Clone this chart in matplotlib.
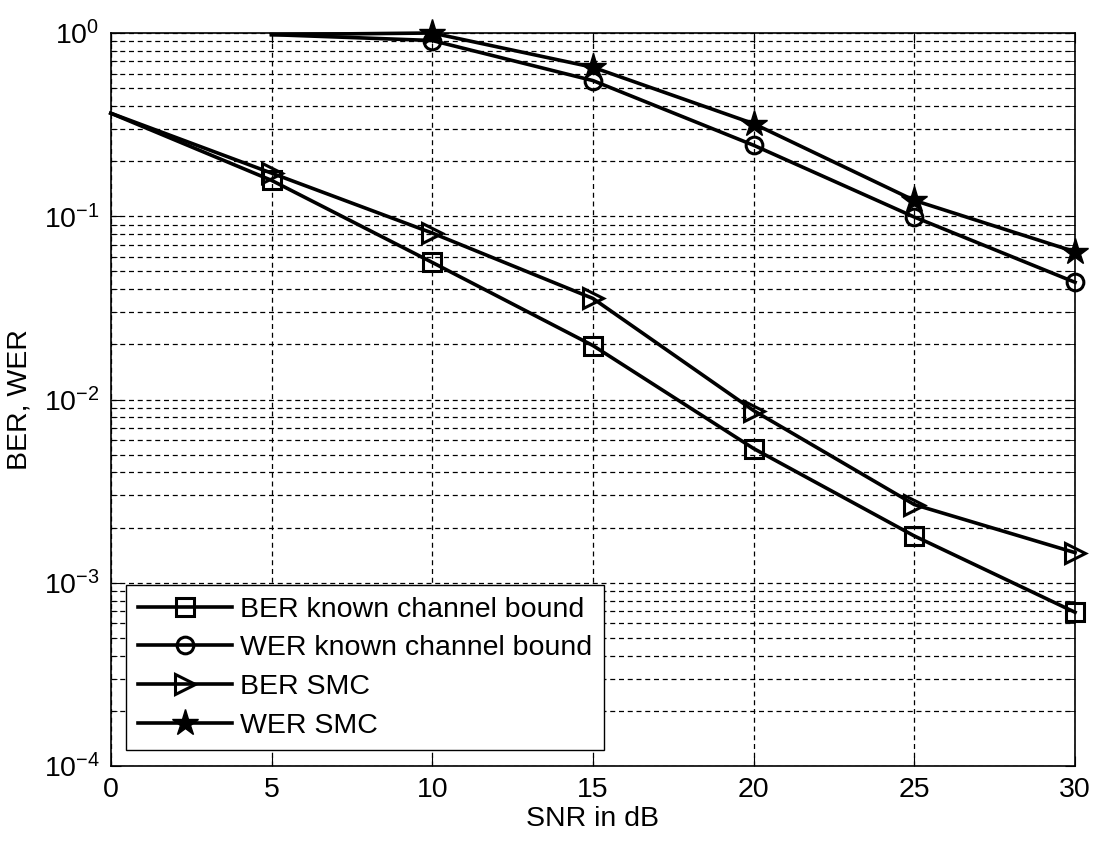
import numpy as np
import matplotlib
matplotlib.use("Agg")
import matplotlib.pyplot as plt
from matplotlib.ticker import LogLocator, NullFormatter

plt.rcParams['font.family'] = ['Liberation Sans', 'DejaVu Sans']
plt.rcParams['mathtext.fontset'] = 'custom'
plt.rcParams['mathtext.rm'] = 'Liberation Sans'
plt.rcParams['mathtext.it'] = 'Liberation Sans'
plt.rcParams['mathtext.bf'] = 'Liberation Sans:bold'

# data
snr = [0, 5, 10, 15, 20, 25, 30]
ber_known = [0.365, 0.157, 0.056, 0.0197, 0.0054, 0.0018, 0.00069]
ber_smc = [0.365, 0.172, 0.081, 0.0356, 0.0087, 0.00267, 0.00146]

snr_wer = [5, 10, 15, 20, 25, 30]
wer_known = [0.98, 0.91, 0.55, 0.244, 0.099, 0.0436]
wer_smc = [0.98, 1.0, 0.65, 0.32, 0.122, 0.064]

labels = ['BER known channel bound', 'WER known channel bound', 'BER SMC', 'WER SMC']

fs = 20.5

fig = plt.figure(figsize=(10.97, 8.44), dpi=100)
ax = fig.add_axes([0.101, 0.0924, 0.879, 0.8685])

lw = 2.6
ax.plot(snr, ber_known, color='k', lw=lw, marker='s', ms=13, mfc='none', mew=2.2,
        markevery=list(range(1, len(snr))), clip_on=False, label=labels[0])
ax.plot(snr_wer, wer_known, color='k', lw=lw, marker='o', ms=12, mfc='none', mew=2.2,
        markevery=list(range(1, len(snr_wer))), clip_on=False, label=labels[1])
ax.plot(snr, ber_smc, color='k', lw=lw, marker='>', ms=14, mfc='none', mew=2.2,
        markevery=list(range(1, len(snr))), clip_on=False, label=labels[2])
ax.plot(snr_wer, wer_smc, color='k', lw=lw, marker='*', ms=20, mfc='k', mew=1,
        markevery=list(range(1, len(snr_wer))), clip_on=False, label=labels[3])

ax.set_yscale('log')
ax.set_xlim(0, 30)
ax.set_ylim(1e-4, 1e0)
ax.set_xticks([0, 5, 10, 15, 20, 25, 30])
ax.yaxis.set_major_locator(LogLocator(base=10, numticks=10))
ax.yaxis.set_minor_locator(LogLocator(base=10, subs=np.arange(2, 10), numticks=20))
ax.yaxis.set_minor_formatter(NullFormatter())

ax.grid(True, which='major', axis='both', color='k', linestyle=(0, (4, 3)), lw=0.9)
ax.grid(True, which='minor', axis='y', color='k', linestyle=(0, (4, 3)), lw=0.9)

ax.tick_params(axis='both', which='both', direction='in', labelsize=fs, top=True, right=True)
ax.tick_params(axis='both', which='major', length=7, pad=8)
ax.tick_params(axis='y', which='minor', length=4)
for s in ax.spines.values():
    s.set_linewidth(1.2)

ax.set_xlabel('SNR in dB', fontsize=fs, labelpad=2)
ax.set_ylabel('BER, WER', fontsize=fs, labelpad=8)

leg = ax.legend(loc='lower left', fontsize=fs, handlelength=3.3, handletextpad=0.3,
                labelspacing=0.45, borderaxespad=0.55, fancybox=False, framealpha=1,
                edgecolor='k', borderpad=0.4)
leg.get_frame().set_linewidth(1.0)

fig.savefig('out.png', dpi=100)
